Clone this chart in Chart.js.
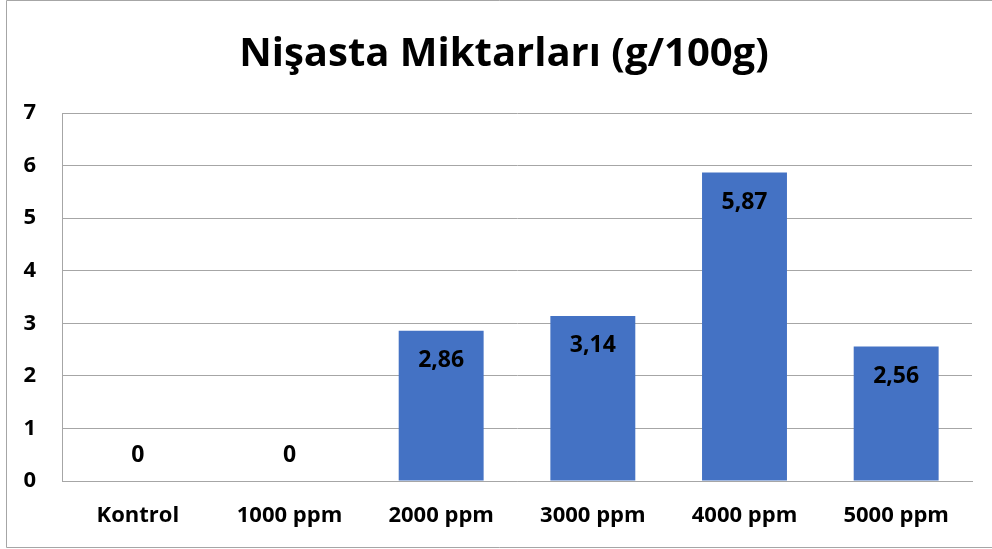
<!DOCTYPE html>
<html>
<head>
<meta charset="utf-8">
<script src="https://cdn.jsdelivr.net/npm/chart.js@4.4.1/dist/chart.umd.min.js"></script>
<style>
  html, body { margin: 0; padding: 0; background: #ffffff; }
  #wrap { width: 992px; height: 549px; position: relative; }
</style>
</head>
<body>
<div id="wrap"><canvas id="c" width="992" height="549"></canvas></div>
<script>
// Categories, values and axis ticks
const categories = ['Kontrol', '1000 ppm', '2000 ppm', '3000 ppm', '4000 ppm', '5000 ppm'];
const starchValues = [0, 0, 2.86, 3.14, 5.87, 2.56];
const yTicks = [0, 1, 2, 3, 4, 5, 6, 7];
const chartTitle = 'Nişasta Miktarları (g/100g)';

const FONT = '"Open Sans", Lato, sans-serif';

// Chart heading, centred over the whole frame (plot area plus axis labels)
const heading = {
  id: 'heading',
  afterDraw(chart) {
    const ctx = chart.ctx;
    ctx.save();
    ctx.font = 'bold 40px ' + FONT;
    ctx.fillStyle = '#000000';
    ctx.textAlign = 'center';
    ctx.textBaseline = 'middle';
    ctx.fillText(chartTitle, (chart.chartArea.left + chart.chartArea.right) / 2 - 13, 55);
    ctx.restore();
  }
};

// Value labels: just inside the top of each bar, above the baseline for zero values
const valueLabels = {
  id: 'valueLabels',
  afterDatasetsDraw(chart) {
    const ctx = chart.ctx;
    const meta = chart.getDatasetMeta(0);
    ctx.save();
    ctx.font = 'bold 23px ' + FONT;
    ctx.fillStyle = '#000000';
    ctx.textAlign = 'center';
    ctx.textBaseline = 'middle';
    meta.data.forEach((bar, i) => {
      const v = chart.data.datasets[0].data[i];
      const txt = String(v).replace('.', ',');
      const y = v > 0 ? bar.y + 30 : bar.y - 26;
      ctx.fillText(txt, bar.x, y);
    });
    ctx.restore();
  }
};

// Thin frame around the chart
const frame = {
  id: 'frame',
  afterDraw(chart) {
    const ctx = chart.ctx;
    ctx.save();
    ctx.strokeStyle = '#a6a6a6';
    ctx.lineWidth = 1;
    ctx.beginPath();
    ctx.moveTo(6.5, 547.5);
    ctx.lineTo(6.5, 0.5);
    ctx.lineTo(992, 0.5);
    ctx.moveTo(6.5, 547.5);
    ctx.lineTo(992, 547.5);
    ctx.stroke();
    ctx.restore();
  }
};

new Chart(document.getElementById('c'), {
  type: 'bar',
  data: {
    labels: categories,
    datasets: [{
      data: starchValues,
      backgroundColor: '#4472c4',
      borderWidth: 0,
      categoryPercentage: 1.0,
      barPercentage: 0.56
    }]
  },
  options: {
    responsive: false,
    animation: false,
    devicePixelRatio: 1,
    layout: { padding: { left: 0, right: 20, top: 113, bottom: 0 } },
    plugins: {
      legend: { display: false },
      tooltip: { enabled: false },
      title: { display: false }
    },
    scales: {
      x: {
        grid: { display: false, drawTicks: false },
        border: { display: true, color: '#a6a6a6' },
        ticks: {
          color: '#000000',
          padding: 22,
          maxRotation: 0,
          font: { family: FONT, size: 22, weight: 'bold' }
        },
        afterFit(scale) { scale.height = 68; }
      },
      y: {
        min: 0,
        max: 7,
        afterBuildTicks(scale) { scale.ticks = yTicks.map(v => ({ value: v })); },
        grid: { color: '#a6a6a6', drawTicks: false },
        border: { display: true, color: '#a6a6a6' },
        ticks: {
          color: '#000000',
          padding: 26,
          font: { family: FONT, size: 22, weight: 'bold' }
        },
        afterFit(scale) { scale.width = 62; }
      }
    }
  },
  plugins: [valueLabels, heading, frame]
});
</script>
</body>
</html>
